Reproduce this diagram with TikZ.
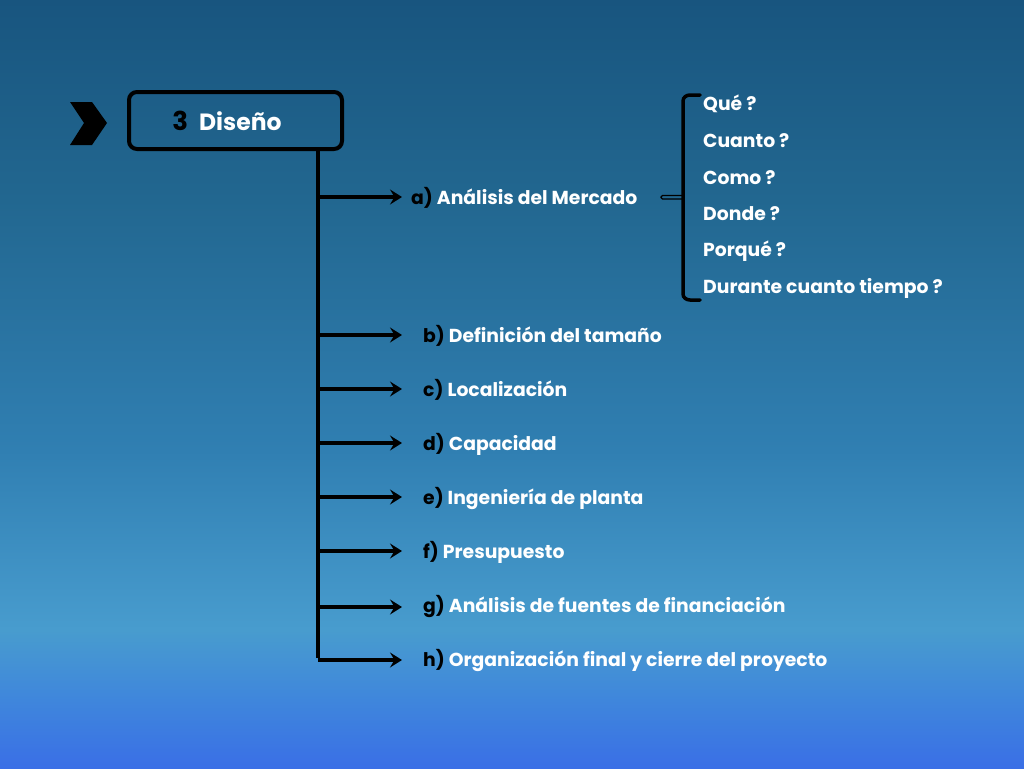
\documentclass[tikz,border=0pt]{standalone}
\usepackage{fontspec}
\setmainfont{Poppins}
\usetikzlibrary{arrows.meta}
\definecolor{bgA}{HTML}{18557F}
\definecolor{bgB}{HTML}{226790}
\definecolor{bgC}{HTML}{307FB2}
\definecolor{bgD}{HTML}{489CCE}
\definecolor{bgE}{HTML}{3F86DC}
\definecolor{bgF}{HTML}{3A6FE6}
\pgfdeclareverticalshading{bgshade}{100bp}{color(0bp)=(bgF); color(25bp)=(bgF); color(29.4bp)=(bgE); color(34bp)=(bgD); color(45.7bp)=(bgC); color(62bp)=(bgB); color(75bp)=(bgA); color(100bp)=(bgA)}
\begin{document}
\begin{tikzpicture}[x=1pt,y=-1pt,
  lbl/.style={anchor=west,inner sep=0pt,text=white,font=\bfseries\fontsize{18.8}{20}\selectfont},
  arr/.style={line width=3.5pt,-{Stealth[length=12pt,width=15pt,inset=4.5pt]}},
  trunk/.style={line width=3.5pt},
  brk/.style={line width=3.5pt,line cap=round}]
\useasboundingbox (0,0) rectangle (1024,768);
\fill[shading=bgshade] (0,0) rectangle (1024,768);
% chevron
\fill[black] (70,102) -- (92,102) -- (107,123) -- (92,145) -- (70,145) -- (84,123) -- cycle;
% title box
\node[draw=black,line width=4pt,rounded corners=8pt,minimum width=213pt,minimum height=57pt,inner sep=0pt] (box) at (235.5,120.5) {};
\node[inner sep=0pt,font=\bfseries\fontsize{23.5}{25}\selectfont] (title) at (227,121) {\textcolor{black}{\fontsize{26}{28}\selectfont 3}\hspace{11pt}\textcolor{white}{Diseño}};
% trunk
\coordinate (t0) at (318,149);
\coordinate (ta) at (318,197);
\coordinate (tb) at (318,335);
\coordinate (tc) at (318,389);
\coordinate (td) at (318,443);
\coordinate (te) at (318,497);
\coordinate (tf) at (318,551);
\coordinate (tg) at (318,607);
\coordinate (th) at (318,660);
\draw[trunk] (t0) -- ([yshift=1.75pt]th);
% labels
\node[lbl] (la) at (411,198) {\textcolor{black}{a)} Análisis del Mercado};
\node[lbl] (lb) at (423,336) {\textcolor{black}{b)} Definición del tamaño};
\node[lbl] (lc) at (423,390) {\textcolor{black}{c)} Localización};
\node[lbl] (ld) at (423,444) {\textcolor{black}{d)} Capacidad};
\node[lbl] (le) at (423,498) {\textcolor{black}{e)} Ingeniería de planta};
\node[lbl] (lf) at (423,552) {\textcolor{black}{f)} Presupuesto};
\node[lbl] (lg) at (423,606) {\textcolor{black}{g)} Análisis de fuentes de financiación};
\node[lbl] (lh) at (423,660) {\textcolor{black}{h)} Organización final y cierre del proyecto};
% arrows
\draw[arr,shorten >=9pt] (ta) -- (ta -| la.west);
\draw[arr,shorten >=21pt] (tb) -- (tb -| lb.west);
\draw[arr,shorten >=21pt] (tc) -- (tc -| lc.west);
\draw[arr,shorten >=21pt] (td) -- (td -| ld.west);
\draw[arr,shorten >=21pt] (te) -- (te -| le.west);
\draw[arr,shorten >=21pt] (tf) -- (tf -| lf.west);
\draw[arr,shorten >=21pt] (tg) -- (tg -| lg.west);
\draw[arr,shorten >=21pt] (th) -- (th -| lh.west);
% bracket
\draw[brk] (700,95) -- (690,95) to[out=180,in=90] (683,101) -- (683,294) to[out=-90,in=180] (690,300) -- (700,300);
\draw[line width=1.2pt,rounded corners=1.5pt] (683,195.5) -- (661,195.5) -- (661,199) -- (683,199);
% questions
\node[lbl] (q1) at (703,104) {Qué ?};
\node[lbl] (q2) at (703,141) {Cuanto ?};
\node[lbl] (q3) at (703,178) {Como ?};
\node[lbl] (q4) at (703,214) {Donde ?};
\node[lbl] (q5) at (703,251) {Porqué ?};
\node[lbl] (q6) at (703,288) {Durante cuanto tiempo ?};
\end{tikzpicture}
\end{document}
